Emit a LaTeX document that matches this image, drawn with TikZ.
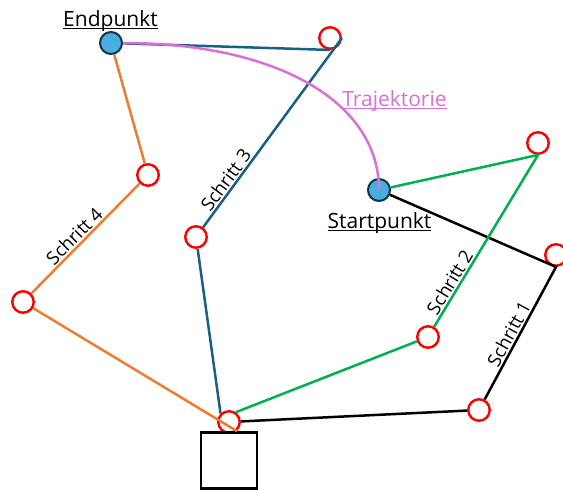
\documentclass[tikz,border=0pt]{standalone}
\usepackage{fontspec}
\setmainfont{Open Sans}
\usetikzlibrary{calc}
\definecolor{routeblue}{RGB}{25,96,133}
\definecolor{routeorange}{RGB}{237,125,49}
\definecolor{routegreen}{RGB}{0,176,80}
\definecolor{trajpink}{RGB}{218,112,214}
\definecolor{pointfill}{RGB}{72,174,224}
\definecolor{pointedge}{RGB}{18,52,72}
% underlined label: rule just below the baseline, in the current text colour
\newcommand\ulabel[1]{\setbox0\hbox{#1}\rlap{\rule[-3pt]{\wd0}{1.3pt}}\box0}
\begin{document}
\begin{tikzpicture}[x=1pt,y=-1pt,
  waypoint/.style={circle,draw=red,line width=2.4pt,minimum size=21.5pt,inner sep=0pt},
  endpoint/.style={circle,draw=pointedge,fill=pointfill,line width=2pt,minimum size=22pt,inner sep=0pt},
  leg/.style={line width=2.5pt},
  steplabel/.style={sloped,anchor=south,inner xsep=0pt,inner ysep=1.5pt,font=\fontsize{18.5}{22}\selectfont,text=black},
  pointlabel/.style={font=\fontsize{21}{25}\selectfont,inner sep=0pt,anchor=base}]
\useasboundingbox (0,0) rectangle (563,490);

% start, end and intermediate points
\node[endpoint] (E) at (111,43) {};
\node[endpoint] (S) at (379,190) {};
\node[waypoint] (a) at (330,38) {};
\node[waypoint] (b) at (148,175) {};
\node[waypoint] (c) at (196,237) {};
\node[waypoint] (d) at (23,302) {};
\node[waypoint] (f) at (229,422) {};
\node[waypoint] (g) at (479,410) {};
\node[waypoint] (h) at (428,337) {};
\node[waypoint] (k) at (538,143) {};
\node[waypoint] (m) at (556,255) {};
\node[draw,line width=2.7pt,minimum size=56pt,inner sep=0pt] (box) at (229,460.5) {};

% step 1
\draw[leg] (S) -- (m.south) -- node[steplabel,pos=0.54] {Schritt 1} (g) -- (f);
% step 2
\draw[leg,routegreen] (S) -- (k.south) -- node[steplabel,pos=0.77] {Schritt 2} (h) -- (f.55);
% step 3
\draw[leg,routeblue] (E) -- (a.south);
\draw[leg,routeblue] (a.east) -- node[steplabel,pos=0.78] {Schritt 3} (c) -- (f.135);
% step 4
\draw[leg,routeorange] (E) -- (b) -- node[steplabel,pos=0.54] {Schritt 4} (d) -- ([xshift=8pt]box.north);

% trajectory
\draw[line width=2.5pt,trajpink] (E.east) .. controls (277,43) and (379,102) .. (S.center);

% labels
\node[pointlabel] (endlbl) at (110.5,26) {\ulabel{Endpunkt}};
\node[pointlabel] (startlbl) at (379.5,228) {\ulabel{Startpunkt}};
\node[pointlabel,text=trajpink] (trajlbl) at (394.5,106) {\ulabel{Trajektorie}};
\end{tikzpicture}
\end{document}
